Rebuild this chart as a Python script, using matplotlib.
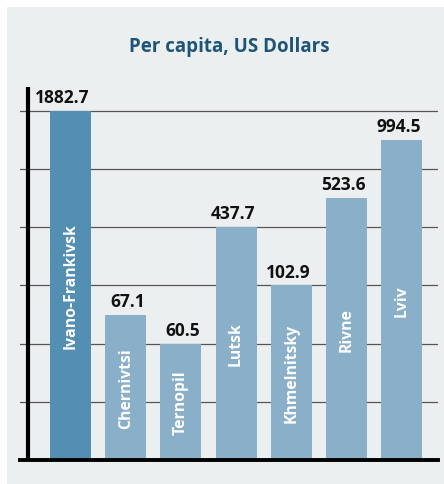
import matplotlib
matplotlib.use("Agg")
import matplotlib.pyplot as plt
from matplotlib.patches import Rectangle

# Data
regions = ["Ivano-Frankivsk", "Chernivtsi", "Ternopil", "Lutsk", "Khmelnitsky", "Rivne", "Lviv"]
values = [1882.7, 67.1, 60.5, 437.7, 102.9, 523.6, 994.5]
value_labels = ["1882.7", "67.1", "60.5", "437.7", "102.9", "523.6", "994.5"]
# bar heights as drawn in the picture (grid units)
bar_heights = [6.0, 2.5, 2.0, 4.0, 3.0, 4.5, 5.5]
title = "Per capita, US Dollars"

W, H = 444, 485
fig = plt.figure(figsize=(W / 100, H / 100), dpi=100)
fig.patch.set_facecolor("white")
fig.patches.append(Rectangle((7 / W, 0), 1 - 7 / W, 1 - 8 / H, transform=fig.transFigure,
                             facecolor="#ECEFF0", edgecolor="none", zorder=-10))

fig.text(229 / W, 1 - 47 / H, title, ha="center", va="center", fontsize=13.5,
         fontweight="bold", color="#1E5478", family="Open Sans")

ax = fig.add_axes([20 / W, 24 / H, 418 / W, (461 - 88) / H])
ax.set_facecolor("none")
for s in ax.spines.values():
    s.set_visible(False)
ax.set_xticks([])
ax.set_yticks([])

n = len(regions)
x = list(range(n))
bw = 0.743
ax.set_xlim(-0.915, n - 1 + 0.66)
ax.set_ylim(0, 6.41)

for g in range(1, 7):
    ax.axhline(g, color="#555555", lw=0.9, zorder=1)

colors = ["#528FB2"] + ["#89AFC9"] * (n - 1)
bars = ax.bar(x, bar_heights, width=bw, color=colors, zorder=2)

ax.axhline(0, color="black", lw=2.8, zorder=3, clip_on=False)
ax.plot([-0.77, -0.77], [0, 6.41], color="black", lw=3, zorder=3, clip_on=False,
        solid_capstyle="butt")

for xi, h, lab, name in zip(x, bar_heights, value_labels, regions):
    ax.annotate(lab, (xi + bw / 2, h), xytext=(-1, 3.5), textcoords="offset points",
                ha="right", va="bottom", fontsize=12.5, fontweight="bold",
                color="#111111", family="Open Sans", zorder=4)
    ax.text(xi, h / 2, name, rotation=90, ha="center", va="center", fontsize=11.3,
            fontweight="bold", color="white", family="Open Sans", zorder=4)

fig.savefig("out.png", dpi=100)
